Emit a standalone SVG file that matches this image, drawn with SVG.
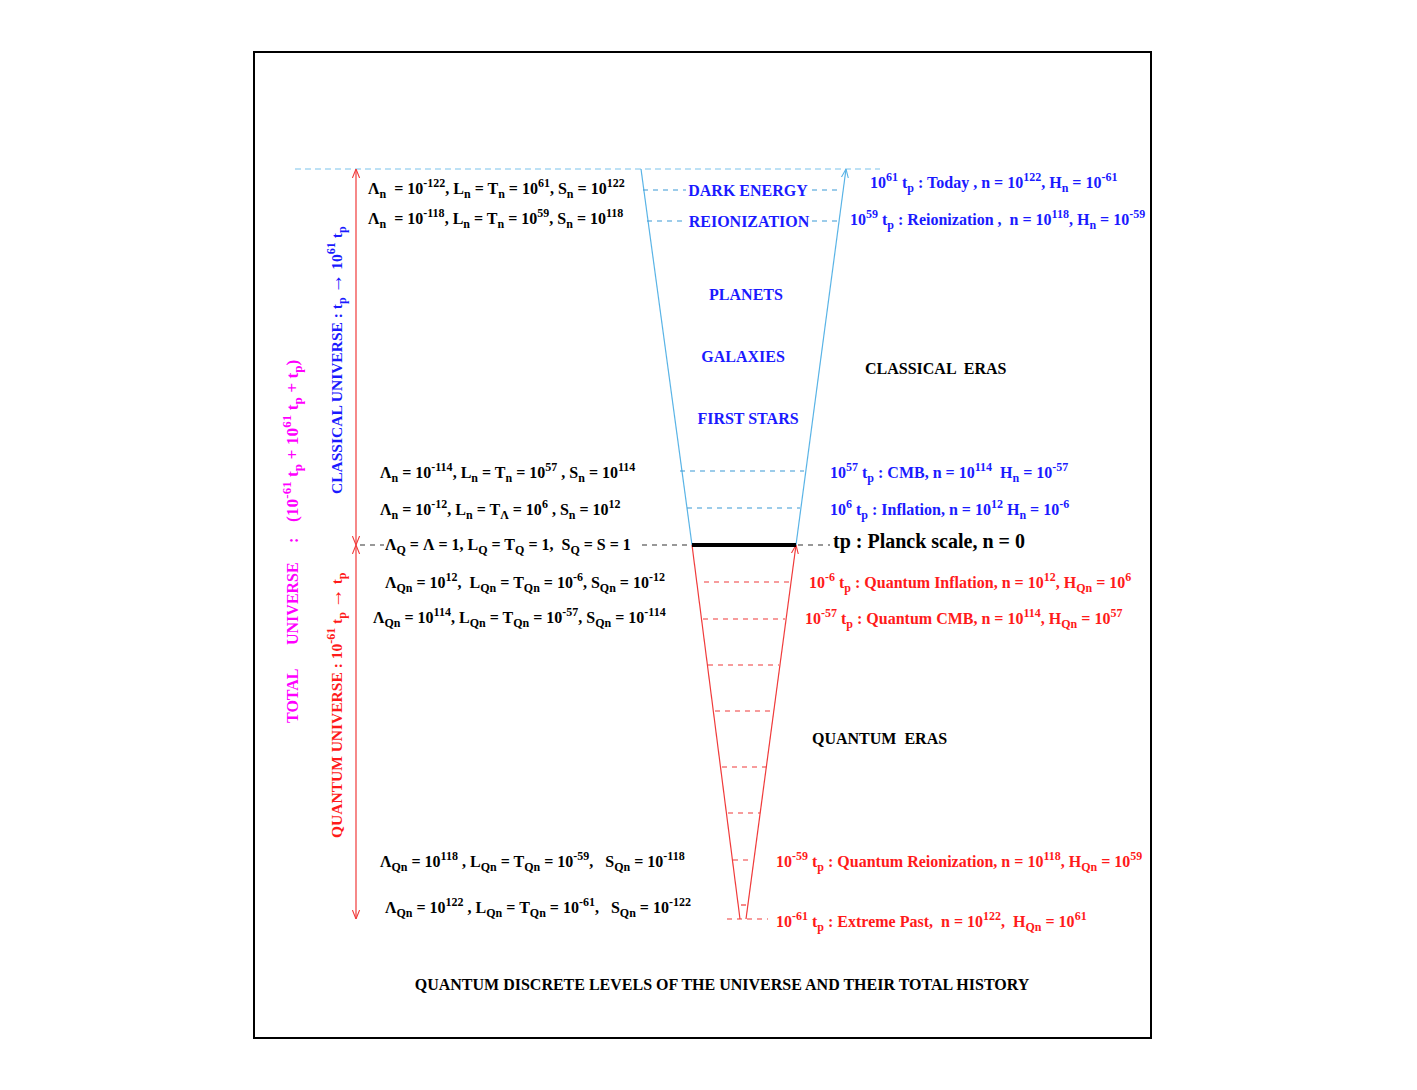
<svg xmlns="http://www.w3.org/2000/svg" width="1417" height="1090" viewBox="0 0 1417 1090">
<style>
.t{font-family:"Liberation Serif","Times New Roman",serif;font-weight:bold;font-size:16px}
.s15{font-size:15.5px}
.s20{font-size:20px}
.k{fill:#000}
.b{fill:#1a1aff}
.r{fill:#ff1a1a}
.m{fill:#ff00ff}
.sp{font-size:12px;baseline-shift:7px}
.sb{font-size:12px;baseline-shift:-4px}
.ar{font-size:20px}
.big{font-size:17.5px}
.big .sp,.big .sb{font-size:13px}
.lb{stroke:#5ab4e6;stroke-width:1.2;fill:none}
.lr{stroke:#f03a3a;stroke-width:1.2;fill:none}
.db{stroke:#3a9ad6;stroke-width:1.2;stroke-dasharray:5 5;fill:none}
.dr{stroke:#f03a3a;stroke-width:1.2;stroke-dasharray:5 5;fill:none}
.dk{stroke:#333;stroke-width:1.2;stroke-dasharray:5 5;fill:none}
.dt{stroke:#7cc4ec;stroke-width:1.2;stroke-dasharray:6 4;fill:none}
</style>
<defs>
<marker id="ahR" viewBox="0 0 10 10" refX="10" refY="5" markerWidth="9" markerHeight="9" markerUnits="userSpaceOnUse" orient="auto-start-reverse"><path d="M0,1 L10,5 L0,9" fill="none" stroke="#f03a3a" stroke-width="1.2"/></marker>
<marker id="ahB" viewBox="0 0 10 10" refX="10" refY="5" markerWidth="9" markerHeight="9" markerUnits="userSpaceOnUse" orient="auto-start-reverse"><path d="M0,1 L10,5 L0,9" fill="none" stroke="#5ab4e6" stroke-width="1.2"/></marker>
</defs>
<rect x="0" y="0" width="1417" height="1090" fill="#fff"/>
<rect id="frame" x="254" y="52" width="897" height="986" fill="none" stroke="#000" stroke-width="2"/>

<g id="connectors">
<line class="dt" x1="295" y1="169" x2="880" y2="169"/>
<line class="lb" x1="641" y1="169" x2="692" y2="545"/>
<line class="lb" x1="796" y1="545" x2="846" y2="169" marker-end="url(#ahB)"/>
<line class="lr" x1="692" y1="545" x2="740" y2="919"/>
<line class="lr" x1="746" y1="919" x2="796" y2="545" marker-end="url(#ahR)"/>
<line x1="692" y1="545" x2="796" y2="545" stroke="#000" stroke-width="4"/>
<line class="lr" x1="356" y1="169" x2="356" y2="545" marker-start="url(#ahR)" marker-end="url(#ahR)"/>
<line class="lr" x1="356" y1="545" x2="356" y2="919" marker-start="url(#ahR)" marker-end="url(#ahR)"/>
<line class="db" x1="643" y1="190" x2="686" y2="190"/>
<line class="db" x1="812" y1="190" x2="840" y2="190"/>
<line class="db" x1="647" y1="221" x2="683" y2="221"/>
<line class="db" x1="812" y1="221" x2="838" y2="221"/>
<line class="db" x1="680" y1="471" x2="804" y2="471"/>
<line class="db" x1="687" y1="508" x2="800" y2="508"/>
<line class="dk" x1="360" y1="545" x2="384" y2="545"/>
<line class="dk" x1="642" y1="545" x2="692" y2="545"/>
<line class="dk" x1="798" y1="545" x2="830" y2="545"/>
<line class="dr" x1="704" y1="582" x2="790" y2="582"/>
<line class="dr" x1="703" y1="619" x2="785" y2="619"/>
<line class="dr" x1="708" y1="665" x2="779" y2="665"/>
<line class="dr" x1="715" y1="711" x2="772" y2="711"/>
<line class="dr" x1="722" y1="767" x2="766" y2="767"/>
<line class="dr" x1="728" y1="813" x2="760" y2="813"/>
<line class="dr" x1="733" y1="860" x2="750" y2="860"/>
<line class="dr" x1="741" y1="905" x2="746" y2="905"/>
<line class="dr" x1="727" y1="919" x2="768" y2="919"/>
</g>

<g id="eras-classical">
<text class="t b" x="748" y="196" text-anchor="middle">DARK ENERGY</text>
<text class="t b" x="749" y="227" text-anchor="middle">REIONIZATION</text>
<text class="t b" x="746" y="300" text-anchor="middle">PLANETS</text>
<text class="t b" x="743" y="362" text-anchor="middle">GALAXIES</text>
<text class="t b" x="748" y="424" text-anchor="middle">FIRST STARS</text>
<text class="t k" x="865" y="374" xml:space="preserve">CLASSICAL  ERAS</text>
<text class="t k" x="812" y="744" xml:space="preserve">QUANTUM  ERAS</text>
</g>

<g id="left-labels">
<text class="t k" x="368" y="194" xml:space="preserve">Λ<tspan class="sb">n</tspan>  = 10<tspan class="sp">-122</tspan>, L<tspan class="sb">n</tspan> = T<tspan class="sb">n</tspan> = 10<tspan class="sp">61</tspan>, S<tspan class="sb">n</tspan> = 10<tspan class="sp">122</tspan></text>
<text class="t k" x="368" y="224" xml:space="preserve">Λ<tspan class="sb">n</tspan>  = 10<tspan class="sp">-118</tspan>, L<tspan class="sb">n</tspan> = T<tspan class="sb">n</tspan> = 10<tspan class="sp">59</tspan>, S<tspan class="sb">n</tspan> = 10<tspan class="sp">118</tspan></text>
<text class="t k" x="380" y="478" xml:space="preserve">Λ<tspan class="sb">n</tspan> = 10<tspan class="sp">-114</tspan>, L<tspan class="sb">n</tspan> = T<tspan class="sb">n</tspan> = 10<tspan class="sp">57</tspan> , S<tspan class="sb">n</tspan> = 10<tspan class="sp">114</tspan></text>
<text class="t k" x="380" y="515" xml:space="preserve">Λ<tspan class="sb">n</tspan> = 10<tspan class="sp">-12</tspan>, L<tspan class="sb">n</tspan> = T<tspan class="sb">Λ</tspan> = 10<tspan class="sp">6</tspan> , S<tspan class="sb">n</tspan> = 10<tspan class="sp">12</tspan></text>
<text class="t k" x="385" y="550" xml:space="preserve">Λ<tspan class="sb">Q</tspan> = Λ = 1, L<tspan class="sb">Q</tspan> = T<tspan class="sb">Q</tspan> = 1,  S<tspan class="sb">Q</tspan> = S = 1</text>
<text class="t k" x="385" y="588" xml:space="preserve">Λ<tspan class="sb">Qn</tspan> = 10<tspan class="sp">12</tspan>,  L<tspan class="sb">Qn</tspan> = T<tspan class="sb">Qn</tspan> = 10<tspan class="sp">-6</tspan>, S<tspan class="sb">Qn</tspan> = 10<tspan class="sp">-12</tspan></text>
<text class="t k" x="373" y="623" xml:space="preserve">Λ<tspan class="sb">Qn</tspan> = 10<tspan class="sp">114</tspan>, L<tspan class="sb">Qn</tspan> = T<tspan class="sb">Qn</tspan> = 10<tspan class="sp">-57</tspan>, S<tspan class="sb">Qn</tspan> = 10<tspan class="sp">-114</tspan></text>
<text class="t k" x="380" y="867" xml:space="preserve">Λ<tspan class="sb">Qn</tspan> = 10<tspan class="sp">118</tspan> , L<tspan class="sb">Qn</tspan> = T<tspan class="sb">Qn</tspan> = 10<tspan class="sp">-59</tspan>,   S<tspan class="sb">Qn</tspan> = 10<tspan class="sp">-118</tspan></text>
<text class="t k" x="385" y="913" xml:space="preserve">Λ<tspan class="sb">Qn</tspan> = 10<tspan class="sp">122</tspan> , L<tspan class="sb">Qn</tspan> = T<tspan class="sb">Qn</tspan> = 10<tspan class="sp">-61</tspan>,   S<tspan class="sb">Qn</tspan> = 10<tspan class="sp">-122</tspan></text>
</g>

<g id="right-labels">
<text class="t b" x="870" y="188" xml:space="preserve">10<tspan class="sp">61</tspan> t<tspan class="sb">p</tspan> : Today , n = 10<tspan class="sp">122</tspan>, H<tspan class="sb">n</tspan> = 10<tspan class="sp">-61</tspan></text>
<text class="t b" x="850" y="225" xml:space="preserve">10<tspan class="sp">59</tspan> t<tspan class="sb">p</tspan> : Reionization ,  n = 10<tspan class="sp">118</tspan>, H<tspan class="sb">n</tspan> = 10<tspan class="sp">-59</tspan></text>
<text class="t b" x="830" y="478" xml:space="preserve">10<tspan class="sp">57</tspan> t<tspan class="sb">p</tspan> : CMB, n = 10<tspan class="sp">114</tspan>  H<tspan class="sb">n</tspan> = 10<tspan class="sp">-57</tspan></text>
<text class="t b" x="830" y="515" xml:space="preserve">10<tspan class="sp">6</tspan> t<tspan class="sb">p</tspan> : Inflation, n = 10<tspan class="sp">12</tspan> H<tspan class="sb">n</tspan> = 10<tspan class="sp">-6</tspan></text>
<text class="t k s20" x="833" y="548" xml:space="preserve">tp : Planck scale, n = 0</text>
<text class="t r" x="809" y="588" xml:space="preserve">10<tspan class="sp">-6</tspan> t<tspan class="sb">p</tspan> : Quantum Inflation, n = 10<tspan class="sp">12</tspan>, H<tspan class="sb">Qn</tspan> = 10<tspan class="sp">6</tspan></text>
<text class="t r" x="805" y="624" xml:space="preserve">10<tspan class="sp">-57</tspan> t<tspan class="sb">p</tspan> : Quantum CMB, n = 10<tspan class="sp">114</tspan>, H<tspan class="sb">Qn</tspan> = 10<tspan class="sp">57</tspan></text>
<text class="t r" x="776" y="867" xml:space="preserve">10<tspan class="sp">-59</tspan> t<tspan class="sb">p</tspan> : Quantum Reionization, n = 10<tspan class="sp">118</tspan>, H<tspan class="sb">Qn</tspan> = 10<tspan class="sp">59</tspan></text>
<text class="t r" x="776" y="927" xml:space="preserve">10<tspan class="sp">-61</tspan> t<tspan class="sb">p</tspan> : Extreme Past,  n = 10<tspan class="sp">122</tspan>,  H<tspan class="sb">Qn</tspan> = 10<tspan class="sp">61</tspan></text>
</g>

<g id="vertical-labels">
<text class="t b s15" transform="translate(342,494) rotate(-90)" xml:space="preserve">CLASSICAL UNIVERSE : t<tspan class="sb">p</tspan> <tspan class="ar">→</tspan> 10<tspan class="sp">61</tspan> t<tspan class="sb">p</tspan></text>
<text class="t r s15" transform="translate(342,838) rotate(-90)" xml:space="preserve">QUANTUM UNIVERSE : 10<tspan class="sp">-61</tspan> t<tspan class="sb">p</tspan> <tspan class="ar">→</tspan> t<tspan class="sb">p</tspan></text>
<text class="t m" transform="translate(298,723) rotate(-90)" xml:space="preserve">TOTAL<tspan x="78">UNIVERSE</tspan><tspan x="180">:</tspan><tspan x="201" class="big">(10<tspan class="sp">-61</tspan> t<tspan class="sb">p</tspan> + 10<tspan class="sp">61</tspan> t<tspan class="sb">p</tspan> + t<tspan class="sb">p</tspan>)</tspan></text>
</g>

<g id="title">
<text class="t k" x="722" y="990" text-anchor="middle">QUANTUM DISCRETE LEVELS OF THE UNIVERSE AND THEIR TOTAL HISTORY</text>
</g>
</svg>
